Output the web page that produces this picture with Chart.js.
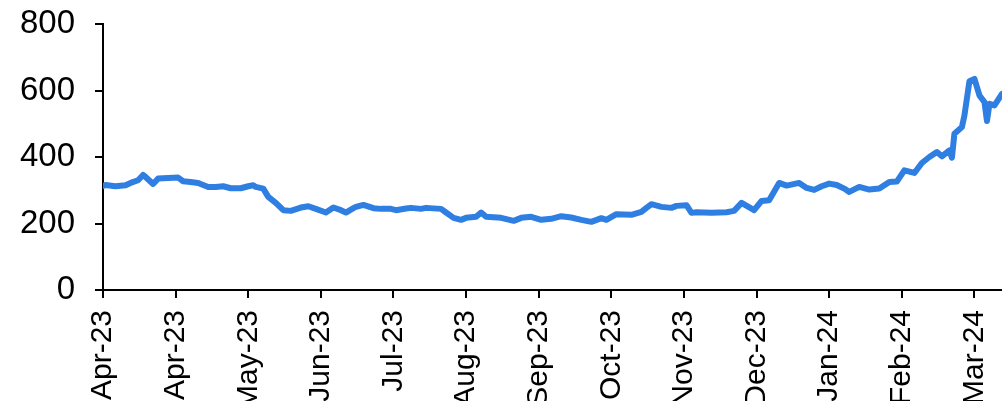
<!DOCTYPE html>
<html lang="en">
<head>
    <meta charset="UTF-8">
    <title>Price chart</title>
    <script src="https://cdn.jsdelivr.net/npm/chart.js"></script>
    <style>
        html, body { margin: 0; padding: 0; background: #fff; overflow: hidden; }
        #wrap { width: 1002px; height: 401px; }
    </style>
</head>
<body>

<div id="wrap">
    <canvas id="chart" width="1002" height="401"></canvas>
</div>

<script>
    var dates = [
        '2023-04-01','2023-04-02','2023-04-06','2023-04-10','2023-04-12','2023-04-15','2023-04-17','2023-04-18',
        '2023-04-21','2023-04-23','2023-04-27','2023-05-01','2023-05-03','2023-05-06','2023-05-09','2023-05-13',
        '2023-05-16','2023-05-19','2023-05-22','2023-05-26','2023-05-29','2023-05-31','2023-06-01','2023-06-04',
        '2023-06-06','2023-06-09','2023-06-12','2023-06-15','2023-06-19','2023-06-22','2023-06-25','2023-06-29',
        '2023-07-02','2023-07-05','2023-07-07','2023-07-10','2023-07-11','2023-07-14','2023-07-18','2023-07-21',
        '2023-07-25','2023-07-27','2023-07-31','2023-08-02','2023-08-06','2023-08-08','2023-08-14','2023-08-16',
        '2023-08-19','2023-08-22','2023-08-24','2023-08-28','2023-08-30','2023-09-01','2023-09-07','2023-09-12',
        '2023-09-15','2023-09-19','2023-09-23','2023-09-27','2023-10-01','2023-10-05','2023-10-09','2023-10-13',
        '2023-10-17','2023-10-19','2023-10-23','2023-10-29','2023-11-02','2023-11-04','2023-11-06','2023-11-10',
        '2023-11-14','2023-11-16','2023-11-20','2023-11-22','2023-11-24','2023-11-30','2023-12-06','2023-12-09',
        '2023-12-12','2023-12-17','2023-12-20','2023-12-23','2023-12-27','2023-12-30','2024-01-04','2024-01-07',
        '2024-01-10','2024-01-13','2024-01-16','2024-01-19','2024-01-22','2024-01-24','2024-01-28','2024-02-01',
        '2024-02-05','2024-02-09','2024-02-12','2024-02-15','2024-02-19','2024-02-22','2024-02-25','2024-02-28',
        '2024-03-01','2024-03-04','2024-03-05','2024-03-06','2024-03-09','2024-03-10','2024-03-12','2024-03-14',
        '2024-03-16','2024-03-18','2024-03-19','2024-03-20','2024-03-22','2024-03-25'
    ];
    var prices = [
        313, 316, 312, 315, 322, 330, 346, 340,
        319, 335, 337, 338, 327, 325, 322, 310,
        310, 312, 306, 306, 312, 315, 310, 305,
        280, 262, 240, 238, 248, 252, 244, 233,
        248, 240, 233, 246, 250, 256, 246, 244,
        244, 240, 245, 247, 244, 247, 244, 233,
        217, 211, 217, 220, 233, 220, 217, 208,
        217, 220, 211, 214, 222, 218, 211, 205,
        216, 211, 228, 226, 235, 247, 258, 250,
        247, 253, 255, 232, 234, 232, 234, 238,
        262, 240, 268, 270, 322, 314, 322, 307,
        301, 312, 320, 316, 305, 295, 310, 302,
        305, 325, 326, 360, 352, 382, 400, 415,
        402, 420, 398, 470, 490, 525, 628, 635,
        585, 565, 508, 560, 555, 590
    ];

    // axis labels, one every 29 days from the start date
    var tickLabels = ['Apr-23','Apr-23','May-23','Jun-23','Jul-23','Aug-23','Sep-23',
                      'Oct-23','Nov-23','Dec-23','Jan-24','Feb-24','Mar-24'];
    var tickStepDays = 29;
    var startDate = '2023-04-01';
    var endDate = '2024-03-25';

    function dayNum(s) {
        return (Date.parse(s + 'T00:00:00Z') - Date.parse(startDate + 'T00:00:00Z')) / 86400000;
    }

    var points = dates.map(function (d, i) { return { x: dayNum(d), y: prices[i] }; });

    var ctx = document.getElementById('chart').getContext('2d');
    var chart = new Chart(ctx, {
        type: 'line',
        data: {
            datasets: [{
                data: points,
                borderColor: '#2e7fe1',
                borderWidth: 6,
                borderJoinStyle: 'round',
                borderCapStyle: 'round',
                pointRadius: 0,
                tension: 0,
                fill: false
            }]
        },
        options: {
            responsive: false,
            animation: false,
            layout: { padding: { top: 24, right: 0, left: 0, bottom: 0 } },
            plugins: { legend: { display: false }, tooltip: { enabled: false } },
            scales: {
                x: {
                    type: 'linear',
                    min: 0,
                    max: dayNum(endDate),
                    afterBuildTicks: function (axis) {
                        axis.ticks = tickLabels.map(function (l, i) { return { value: i * tickStepDays }; });
                    },
                    afterFit: function (axis) {
                        axis.height = 111;
                        axis.paddingLeft = 0;
                        axis.paddingRight = 0;
                    },
                    border: { display: true, color: '#000', width: 2 },
                    grid: { drawOnChartArea: false, drawTicks: true, tickLength: 8, color: '#000', lineWidth: 2 },
                    ticks: {
                        autoSkip: false,
                        minRotation: 90,
                        maxRotation: 90,
                        padding: 12,
                        color: '#000',
                        font: { family: 'Liberation Sans', size: 30 },
                        callback: function (v, i) { return tickLabels[i]; }
                    }
                },
                y: {
                    min: 0,
                    max: 800,
                    afterFit: function (axis) {
                        axis.width = 103;
                        axis.paddingTop = 0;
                        axis.paddingBottom = 0;
                    },
                    border: { display: true, color: '#000', width: 2 },
                    grid: { drawOnChartArea: false, drawTicks: true, tickLength: 8, color: '#000', lineWidth: 2 },
                    ticks: {
                        stepSize: 200,
                        padding: 20,
                        color: '#000',
                        font: { family: 'Liberation Sans', size: 33 }
                    }
                }
            }
        }
    });
</script>

</body>
</html>
